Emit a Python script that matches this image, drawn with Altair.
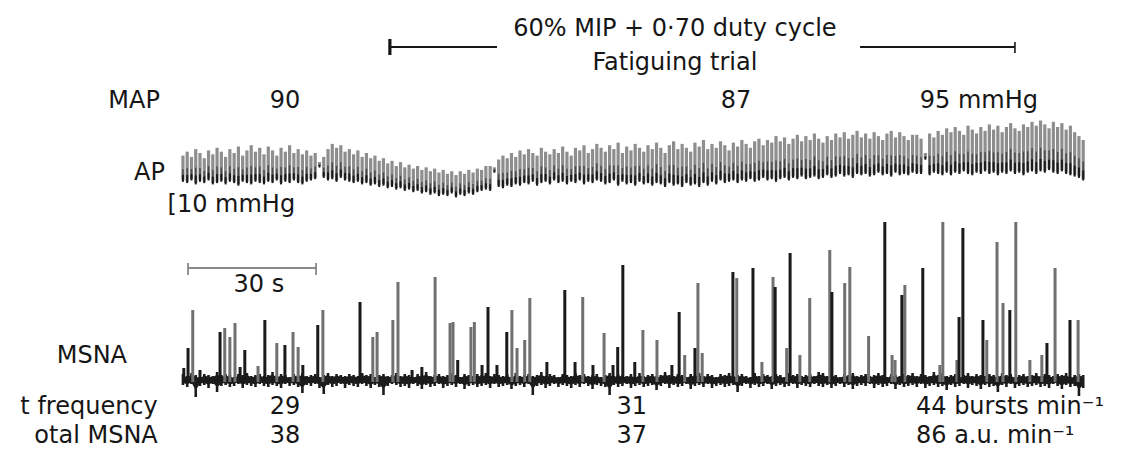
import altair as alt
import pandas as pd

# ---------------- data ----------------
# Beat-to-beat arterial pressure envelope, one reading per second of recording
SAMPLE_T = list(range(212))  # s

AP_SYS = [
    98, 101, 97, 103, 100, 96, 102, 99, 104, 101,
    97, 103, 100, 105, 98, 102, 106, 101, 104, 99,
    105, 102, 98, 104, 101, 106, 100, 103, 99, 102,
    98, 100, 93, 97, 103, 107, 104, 106, 101, 103,
    99, 102, 97, 100, 96, 98, 94, 96, 92, 94,
    90, 93, 89, 91, 88, 90, 87, 89, 86, 88,
    85, 87, 84, 86, 83, 86, 84, 87, 85, 88,
    87, 90, 90, 89, 95, 98, 96, 100, 97, 102,
    99, 103, 100, 98, 104, 101, 99, 103, 100, 105,
    101, 98, 104, 102, 106, 100, 103, 107, 104, 101,
    106, 103, 108, 100, 105, 102, 107, 104, 101, 106,
    103, 108, 104, 100, 106, 109, 103, 107, 104, 101,
    108, 105, 110, 103, 107, 104, 109, 106, 102, 108,
    105, 110, 107, 104, 109, 111, 106, 110, 108, 113,
    109, 112, 107, 111, 114, 109, 113, 110, 115, 111,
    108, 113, 110, 115, 112, 116, 111, 114, 117, 112,
    115, 111, 116, 113, 110, 115, 117, 112, 116, 113,
    110, 114, 114, 111, 100, 115, 112, 117, 114, 119,
    116, 120, 117, 114, 121, 118, 115, 120, 117, 122,
    118, 121, 116, 120, 123, 119, 117, 122, 120, 124,
    121, 125, 122, 119, 124, 120, 123, 118, 121, 116,
    113, 110,
]
AP_DIA = [
    79, 78, 80, 77, 79, 78, 80, 77, 78, 79,
    77, 79, 78, 76, 79, 78, 77, 79, 78, 77,
    79, 78, 80, 77, 79, 78, 80, 78, 77, 79,
    80, 81, 90, 82, 80, 81, 79, 82, 80, 79,
    78, 79, 77, 78, 76, 77, 75, 76, 74, 75,
    73, 74, 72, 73, 71, 72, 70, 71, 69, 70,
    68, 69, 68, 70, 67, 69, 68, 70, 69, 71,
    72, 73, 72, 86, 75, 74, 76, 75, 77, 76,
    78, 77, 79, 76, 78, 79, 77, 80, 78, 79,
    77, 79, 78, 80, 77, 79, 78, 80, 79, 77,
    78, 80, 76, 79, 77, 78, 76, 79, 77, 78,
    76, 78, 77, 75, 78, 76, 77, 75, 78, 76,
    77, 75, 78, 76, 79, 77, 80, 78, 79, 80,
    78, 80, 79, 81, 79, 80, 82, 80, 81, 79,
    81, 82, 80, 82, 81, 83, 81, 82, 83, 81,
    82, 84, 82, 83, 85, 83, 84, 82, 85, 84,
    85, 83, 84, 86, 84, 85, 83, 86, 84, 85,
    84, 86, 85, 85, 96, 84, 86, 85, 84, 86,
    84, 86, 85, 87, 85, 84, 86, 85, 87, 85,
    86, 84, 86, 85, 87, 85, 86, 84, 86, 87,
    85, 87, 86, 88, 86, 85, 87, 85, 84, 83,
    82, 80,
]

# MSNA baseline noise: excursion above / below the baseline (a.u.)
MSNA_HI = [
    6, 4, 7, 5, 3, 6, 5, 4, 8, 5,
    6, 5, 3, 6, 5, 7, 4, 5, 6, 4,
    5, 8, 4, 6, 5, 3, 6, 5, 7, 4,
    5, 6, 3, 5, 7, 4, 6, 5, 4, 6,
    5, 4, 7, 5, 6, 3, 5, 6, 4, 5,
    7, 4, 6, 5, 3, 6, 5, 8, 4, 5,
    6, 4, 5, 7, 5, 3, 6, 5, 4, 6,
    5, 7, 4, 6, 5, 4, 6, 3, 7, 4,
    5, 6, 4, 5, 8, 4, 6, 5, 3, 6,
    5, 4, 7, 5, 6, 4, 5, 6, 3, 5,
    7, 4, 6, 5, 4, 6, 3, 7, 4, 5,
    6, 4, 5, 8, 5, 4, 6, 5, 3, 6,
    5, 7, 4, 6, 5, 3, 6, 5, 7, 4,
    5, 6, 4, 3, 7, 4, 6, 5, 4, 6,
    5, 3, 7, 5, 6, 4, 5, 6, 4, 8,
    7, 4, 6, 5, 3, 6, 5, 7, 4, 5,
    6, 4, 5, 7, 5, 3, 6, 5, 4, 6,
    5, 7, 4, 6, 5, 4, 8, 5, 7, 4,
    5, 6, 3, 5, 7, 4, 6, 5, 4, 6,
    5, 4, 7, 5, 6, 3, 5, 6, 4, 5,
    7, 4, 6, 5, 4, 6, 5, 7, 3, 5,
    6, 5,
]
MSNA_LO = [
    5, 7, 4, 17, 6, 5, 8, 4, 12, 6,
    5, 7, 6, 4, 8, 5, 6, 7, 4, 6,
    7, 5, 6, 8, 4, 6, 5, 7, 13, 5,
    6, 4, 8, 14, 5, 7, 6, 4, 8, 5,
    6, 7, 4, 6, 8, 5, 7, 15, 6, 4,
    5, 7, 6, 8, 4, 6, 9, 5, 7, 6,
    4, 8, 6, 5, 7, 4, 9, 6, 5, 7,
    6, 5, 8, 4, 7, 6, 5, 9, 6, 5,
    7, 4, 15, 6, 5, 8, 6, 4, 7, 5,
    6, 8, 5, 7, 4, 6, 9, 5, 6, 7,
    15, 5, 7, 6, 4, 8, 6, 5, 7, 6,
    5, 10, 6, 4, 8, 5, 7, 6, 4, 9,
    6, 5, 7, 4, 8, 6, 5, 7, 6, 5,
    12, 6, 4, 8, 5, 7, 6, 4, 9, 6,
    5, 7, 6, 4, 8, 5, 6, 7, 4, 6,
    7, 5, 8, 6, 4, 7, 5, 9, 6, 5,
    6, 4, 8, 5, 7, 6, 4, 9, 5, 7,
    6, 5, 7, 4, 8, 6, 5, 7, 6, 10,
    5, 7, 6, 4, 8, 5, 6, 9, 5, 7,
    6, 12, 5, 7, 4, 8, 6, 5, 7, 6,
    5, 7, 6, 8, 4, 6, 9, 5, 7, 6,
    16, 8,
]

# MSNA bursts: time (s), amplitude (a.u.), trace tone (d = dark, g = grey)
BURST_T = [
    0.2, 1.2, 2.3, 4.0, 8.7, 9.8, 11.0, 12.2, 13.4, 14.5, 17.6, 19.2, 22.0, 23.9,
    25.8, 27.0, 28.1, 31.6, 32.8, 41.5, 44.5, 45.5, 49.2, 50.4,
    53.7, 56.0, 59.1, 62.6, 63.3, 64.4, 67.5, 68.3, 70.1, 71.5, 73.6, 75.9, 77.1,
    78.3, 80.1, 81.3, 85.3, 89.5, 91.9, 93.7, 96.1, 98.7, 100.8, 101.9, 103.1,
    105.9, 107.8, 111.1, 114.6, 116.3, 117.6, 120.0, 120.7, 121.7, 128.9, 129.8,
    133.6, 135.7, 138.3, 138.8, 141.5, 142.3, 144.6, 146.9, 151.6, 152.1, 155.1,
    156.3, 160.7,
    164.5, 166.2, 166.9, 168.5, 169.2, 173.4, 177.4, 178.1, 181.4, 181.9, 182.8,
    187.5, 188.4, 190.8, 192.2, 193.8, 195.2, 198.5, 201.3, 202.5, 204.4, 207.9,
    209.8,
]
BURST_AMP = [
    12, 32, 70, 10, 48, 52, 43, 57, 13, 30, 14, 60, 37, 35,
    48, 33, 15, 55, 70, 78, 43, 48, 60, 98,
    10, 13, 103, 57, 58, 20, 53, 58, 15, 73, 15, 48, 70,
    32, 40, 82, 18, 90, 18, 83, 15, 47, 15, 33, 115,
    18, 50, 40, 15, 68, 25, 32, 97, 27, 108, 102,
    112, 18, 103, 93, 32, 127, 25, 82, 130, 88, 97,
    113, 44,
    158, 25, 20, 85, 95, 112, 15, 158, 20, 63, 152,
    60, 40, 138, 77, 70, 158, 20, 25, 37, 112, 60,
    60,
]
BURST_TONE = [
    "d", "d", "g", "d", "d", "g", "g", "g", "d", "d", "g", "d", "g", "d",
    "g", "g", "d", "d", "g", "d", "g", "g", "g", "g",
    "d", "d", "g", "g", "g", "d", "g", "g", "d", "d", "d", "d", "g",
    "g", "g", "g", "d", "d", "d", "g", "d", "g", "d", "d", "d",
    "d", "g", "g", "d", "d", "g", "d", "g", "g", "d", "g",
    "d", "g", "g", "d", "g", "d", "g", "g", "g", "d", "g",
    "g", "g",
    "d", "g", "g", "d", "g", "d", "g", "g", "g", "d", "d",
    "d", "g", "g", "g", "d", "g", "g", "g", "d", "g", "d",
    "g",
]

# Annotations (row labels as they appear, cut at the left edge of the figure)
TRIAL_TITLE = "60% MIP + 0·70 duty cycle"
TRIAL_SUBTITLE = "Fatiguing trial"
TRIAL_START, TRIAL_END = 48.5, 195.0          # s
TITLE_GAP = [73.6, 158.7]                     # s, where the title interrupts the bar
ROW_LABELS = ["MAP", "AP", "MSNA", "t frequency", "otal MSNA"]
MAP_VALUES = ["90", "87", "95 mmHg"]
BURST_FREQ = ["29", "31", "44 bursts min⁻¹"]
TOTAL_MSNA = ["38", "37", "86 a.u. min⁻¹"]
AP_CAL = "[10 mmHg"
TIME_CAL = "30 s"
TIME_CAL_START, TIME_CAL_LEN = 1.2, 30.0      # s

# ---------------- layout ----------------
W, H = 1107, 444
X_DOMAIN = [-41.0, 218.45]                    # s across the figure
AP_ROW, AP_REF, AP_PX = 158, 90, 1.3          # vertical placement of the AP trace
MSNA_ROW = 372                                # baseline of the MSNA trace
ROW_FREQ, ROW_TOTAL = 406, 435                # baselines of the two bottom text rows
FONT = "DejaVu Sans"
FS = 24
INK = "#161616"

xs = alt.Scale(domain=X_DOMAIN, nice=False, zero=False)
ys = alt.Scale(domain=[0, H], reverse=True, nice=False, zero=False)


def X(f):
    return alt.X(f, type="quantitative", scale=xs, axis=None)


def Y(f):
    return alt.Y(f, type="quantitative", scale=ys, axis=None)


# AP trace
ap = pd.DataFrame({"t": SAMPLE_T, "sys": AP_SYS, "dia": AP_DIA})
ap_base = alt.Chart(ap).transform_calculate(
    ys=f"{AP_ROW} - (datum.sys - {AP_REF}) * {AP_PX}",
    yd=f"{AP_ROW} - (datum.dia - {AP_REF}) * {AP_PX}",
).transform_calculate(
    ym="datum.yd - (datum.yd - datum.ys) * 0.45",
    yk="datum.yd - (datum.yd - datum.ys) * 0.22",
    ylow="datum.yd + 1.5",
)
ap_grey = ap_base.mark_rule(color="#8e8e8e", strokeWidth=3.2).encode(
    x=X("t"), y=Y("ys"), y2="yd:Q")
ap_mid = ap_base.mark_rule(color="#4a4a4a", strokeWidth=1.5).encode(
    x=X("t"), y=Y("ym"), y2="yd:Q")
ap_dark = ap_base.mark_rule(color="#1a1a1a", strokeWidth=2.0).encode(
    x=X("t"), y=Y("yk"), y2="ylow:Q")

# MSNA baseline
msna = pd.DataFrame({"t": SAMPLE_T, "hi": MSNA_HI, "lo": MSNA_LO})
msna_base = alt.Chart(msna).transform_calculate(
    top=f"{MSNA_ROW} - datum.hi", bot=f"{MSNA_ROW} + datum.lo",
    itop=f"{MSNA_ROW} - datum.hi * 0.7", ibot=f"{MSNA_ROW} + datum.lo * 0.6",
)
msna_band = msna_base.mark_area(color="#1c1c1c").encode(
    x=X("t"), y=Y("itop"), y2="ibot:Q")
msna_rules = msna_base.mark_rule(color="#1c1c1c", strokeWidth=2.6).encode(
    x=X("t"), y=Y("top"), y2="bot:Q")

# MSNA bursts
bursts = pd.DataFrame({"t": BURST_T, "amp": BURST_AMP, "tone": BURST_TONE})
b_base = alt.Chart(bursts).transform_calculate(
    top=f"{MSNA_ROW} - datum.amp", base=f"{MSNA_ROW} + 2")
b_grey = b_base.transform_filter("datum.tone == 'g'").mark_rule(
    color="#707070", strokeWidth=3).encode(x=X("t"), y=Y("top"), y2="base:Q")
b_dark = b_base.transform_filter("datum.tone == 'd'").mark_rule(
    color="#1a1a1a", strokeWidth=3).encode(x=X("t"), y=Y("top"), y2="base:Q")

# Fatiguing-trial bar
bar = pd.DataFrame({"t": [TRIAL_START, TITLE_GAP[1]], "t2": [TITLE_GAP[0], TRIAL_END], "r": [39, 39]})
bar_line = alt.Chart(bar).mark_rule(color=INK, strokeWidth=2).encode(
    x=X("t"), x2="t2:Q", y=Y("r"))
ticks = pd.DataFrame({"t": [TRIAL_START, TRIAL_END], "r": [31, 34], "r2": [47, 45]})
tick_l = alt.Chart(ticks.iloc[[0]]).mark_rule(color=INK, strokeWidth=3.2).encode(
    x=X("t"), y=Y("r"), y2="r2:Q")
tick_r = alt.Chart(ticks.iloc[[1]]).mark_rule(color=INK, strokeWidth=1.6).encode(
    x=X("t"), y=Y("r"), y2="r2:Q")

# 30 s scale bar
cal = pd.DataFrame({"t": [TIME_CAL_START], "t2": [TIME_CAL_START + TIME_CAL_LEN], "r": [260]})
cal_line = alt.Chart(cal).mark_rule(color="#8a8a8a", strokeWidth=2).encode(
    x=X("t"), x2="t2:Q", y=Y("r"))
cal_t = pd.DataFrame({"t": [TIME_CAL_START, TIME_CAL_START + TIME_CAL_LEN], "r": [255, 255], "r2": [267, 267]})
cal_ticks = alt.Chart(cal_t).mark_rule(color="#7a7a7a", strokeWidth=1.6).encode(
    x=X("t"), y=Y("r"), y2="r2:Q")

# Text
right_txt = pd.DataFrame({
    "t": [-5.4, -4.2, -13.1, -5.9, -5.9],
    "r": [100, 172, 355, ROW_FREQ, ROW_TOTAL],
    "label": ROW_LABELS,
})
center_txt = pd.DataFrame({
    "t": [115.3, 115.3, 23.9, 129.6, 23.9, 105.2, 23.9, 105.2, 17.8],
    "r": [28, 62, 100, 100, ROW_FREQ, ROW_FREQ, ROW_TOTAL, ROW_TOTAL, 284],
    "label": [TRIAL_TITLE, TRIAL_SUBTITLE, MAP_VALUES[0], MAP_VALUES[1],
              BURST_FREQ[0], BURST_FREQ[1], TOTAL_MSNA[0], TOTAL_MSNA[1], TIME_CAL],
})
left_txt = pd.DataFrame({
    "t": [172.7, 171.8, 171.8, -3.6],
    "r": [100, ROW_FREQ, ROW_TOTAL, 204],
    "label": [MAP_VALUES[2], BURST_FREQ[2], TOTAL_MSNA[2], AP_CAL],
})


def texts(df, align):
    return alt.Chart(df).mark_text(
        align=align, baseline="alphabetic", font=FONT, fontSize=FS, color=INK
    ).encode(x=X("t"), y=Y("r"), text="label:N")


chart = alt.layer(
    ap_grey, ap_mid, ap_dark,
    msna_band, msna_rules, b_grey, b_dark,
    bar_line, tick_l, tick_r,
    cal_line, cal_ticks,
    texts(right_txt, "right"), texts(center_txt, "center"), texts(left_txt, "left"),
).properties(
    width=W, height=H, padding=0,
    autosize=alt.AutoSizeParams(type="none"),
    background="white",
).configure_view(stroke=None)

chart.save("out.html", embed_options={"renderer": "svg", "actions": False})
